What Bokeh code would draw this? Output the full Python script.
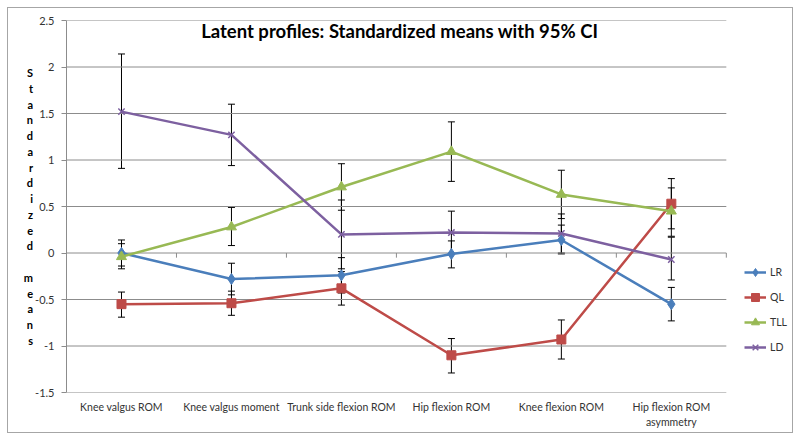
from bokeh.plotting import figure
from bokeh.models import (Range1d, FixedTicker, Label, Legend, LegendItem,
                          Whisker, TeeHead, ColumnDataSource)
from bokeh.embed import file_html
from bokeh.resources import INLINE

categories = ["Knee valgus ROM", "Knee valgus moment", "Trunk side flexion ROM",
              "Hip flexion ROM", "Knee flexion ROM", "Hip flexion ROM\nasymmetry"]

LR = [0.00, -0.28, -0.24, -0.01, 0.14, -0.55]
LR_lo = [-0.14, -0.45, -0.43, -0.16, -0.01, -0.73]
LR_hi = [0.14, -0.11, -0.05, 0.13, 0.30, -0.37]

QL = [-0.55, -0.54, -0.38, -1.10, -0.93, 0.53]
QL_lo = [-0.69, -0.67, -0.56, -1.29, -1.14, 0.26]
QL_hi = [-0.42, -0.41, -0.20, -0.92, -0.72, 0.80]

TLL = [-0.04, 0.28, 0.71, 1.09, 0.63, 0.45]
TLL_lo = [-0.17, 0.08, 0.46, 0.77, 0.37, 0.18]
TLL_hi = [0.10, 0.49, 0.96, 1.41, 0.89, 0.70]

LD = [1.52, 1.27, 0.20, 0.22, 0.21, -0.07]
LD_lo = [0.91, 0.94, -0.17, -0.01, 0.00, -0.29]
LD_hi = [2.14, 1.60, 0.57, 0.45, 0.42, 0.17]

y_ticks = [-1.5, -1, -0.5, 0, 0.5, 1, 1.5, 2, 2.5]

FONT = "Lato"
n = len(categories)
xs = [i + 0.5 for i in range(n)]
X_MAX = 6.62  # extra room on the right of the category area for the legend

W, H = 786, 426
p = figure(width=W, height=H, output_backend="svg", toolbar_location=None,
           x_range=Range1d(0, X_MAX), y_range=Range1d(-1.5, 2.5),
           min_border_left=58, min_border_right=0, min_border_top=12,
           min_border_bottom=42)
p.margin = (7, 0, 0, 7)
p.styles = {"border": "1.5px solid #a6a6a6"}
p.outline_line_color = None
p.background_fill_color = "white"
p.xgrid.grid_line_color = None
p.ygrid.grid_line_color = None

# horizontal gridlines across the category area
p.segment(x0=[0] * len(y_ticks), x1=[n] * len(y_ticks), y0=y_ticks, y1=y_ticks,
          line_color="#8c8c8c", line_width=1)
# category boundary ticks on the zero line
bounds = list(range(1, n + 1))
p.segment(x0=bounds, x1=bounds, y0=[0] * len(bounds), y1=[-0.05] * len(bounds),
          line_color="#8c8c8c", line_width=1)

# y axis
p.yaxis.ticker = FixedTicker(ticks=y_ticks)
p.yaxis.major_label_overrides = {t: ("%g" % t) for t in y_ticks}
p.yaxis.axis_line_color = "#8c8c8c"
p.yaxis.major_tick_line_color = "#8c8c8c"
p.yaxis.major_tick_out = 5
p.yaxis.major_tick_in = 0
p.yaxis.minor_tick_line_color = None
p.yaxis.major_label_text_font = FONT
p.yaxis.major_label_text_font_size = "11px"
p.yaxis.major_label_text_color = "#333333"
p.yaxis.major_label_standoff = 7
p.yaxis.axis_label = "\n".join(list("Standardized") + [""] + list("means"))
p.yaxis.axis_label_orientation = "horizontal"
p.yaxis.axis_label_text_font = FONT
p.yaxis.axis_label_text_font_size = "11px"
p.yaxis.axis_label_text_font_style = "bold"
p.yaxis.axis_label_text_color = "black"
p.yaxis.axis_label_text_line_height = 1.21
p.yaxis.axis_label_standoff = -1

# x axis (labels only)
p.xaxis.ticker = FixedTicker(ticks=xs)
p.xaxis.major_label_overrides = {x: c for x, c in zip(xs, categories)}
p.xaxis.axis_line_color = None
p.xaxis.major_tick_line_color = None
p.xaxis.minor_tick_line_color = None
p.xaxis.major_label_text_font = FONT
p.xaxis.major_label_text_font_size = "10.5px"
p.xaxis.major_label_text_color = "#333333"
p.xaxis.major_label_text_line_height = 1.3
p.xaxis.major_label_standoff = 2

series = [("LR", LR, LR_lo, LR_hi, "#4a7ebb", "diamond", 11),
          ("QL", QL, QL_lo, QL_hi, "#be4b48", "square", 9),
          ("TLL", TLL, TLL_lo, TLL_hi, "#98b954", "triangle", 10),
          ("LD", LD, LD_lo, LD_hi, "#7d60a0", "x", 9)]

items = []
for name, vals, lo, hi, col, mk, sz in series:
    src = ColumnDataSource(dict(x=xs, y=vals, lo=lo, hi=hi))
    w = Whisker(source=src, base="x", lower="lo", upper="hi",
                line_color="black", line_width=1,
                upper_head=TeeHead(size=7, line_color="black", line_width=1),
                lower_head=TeeHead(size=7, line_color="black", line_width=1))
    p.add_layout(w)
    ln = p.line("x", "y", source=src, line_color=col, line_width=2.5)
    sc = p.scatter("x", "y", source=src, marker=mk, size=sz, fill_color=col,
                   line_color=col, line_width=1.5 if mk == "x" else 1)
    items.append(LegendItem(label=name, renderers=[ln, sc]))

legend = Legend(items=items, location=(678, 35), orientation="vertical",
                border_line_color=None, background_fill_alpha=0,
                label_text_font=FONT, label_text_font_size="10.5px",
                label_text_color="#333333", glyph_width=22, glyph_height=20,
                label_height=20, spacing=5, padding=0, margin=0,
                label_standoff=4)
p.add_layout(legend, "center")

p.add_layout(Label(x=3.03, y=2.385, text="Latent profiles: Standardized means with 95% CI",
                   text_font=FONT, text_font_size="18.5px", text_font_style="bold",
                   text_align="center", text_baseline="middle", text_color="black"))

open("out.html", "w").write(file_html(p, INLINE))
